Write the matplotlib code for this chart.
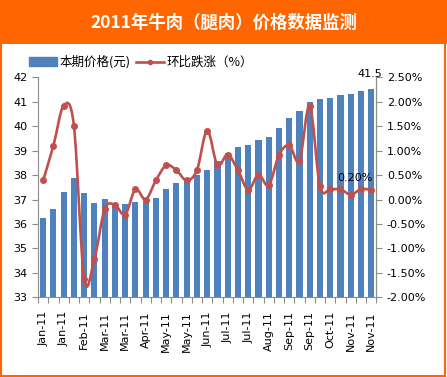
import matplotlib
matplotlib.use('Agg')
import matplotlib.pyplot as plt
from matplotlib.path import Path
from matplotlib.patches import PathPatch, Rectangle
from matplotlib.lines import Line2D
from matplotlib.ticker import FuncFormatter
import numpy as np

plt.rcParams['font.family'] = ['DejaVu Sans', 'Noto Sans CJK SC']

title = '2011年牛肉（腿肉）价格数据监测'
bar_name = '本期价格(元)'
line_name = '环比跌涨（%）'

# one label every second period
tick_labels = ['Jan-11', 'Jan-11', 'Feb-11', 'Mar-11', 'Mar-11', 'Apr-11',
               'May-11', 'May-11', 'Jun-11', 'Jul-11', 'Jul-11', 'Aug-11',
               'Sep-11', 'Sep-11', 'Oct-11', 'Nov-11', 'Nov-11']

price = [36.23, 36.61, 37.32, 37.89, 37.28, 36.85, 37.01, 36.80, 36.80, 36.89,
         36.89, 37.05, 37.43, 37.66, 37.83, 37.99, 38.20, 38.58, 38.89, 39.14,
         39.23, 39.42, 39.57, 39.91, 40.32, 40.62, 40.99, 41.13, 41.17, 41.29,
         41.32, 41.43, 41.52]

change = [0.39, 1.10, 1.92, 1.51, -1.62, -1.22, -0.20, -0.11, -0.31, 0.21,
          0.00, 0.39, 0.70, 0.60, 0.39, 0.60, 1.41, 0.70, 0.92, 0.60,
          0.20, 0.51, 0.29, 0.91, 1.11, 0.79, 1.92, 0.27, 0.21, 0.21,
          0.10, 0.21, 0.20]

bar_color = '#4F81BD'
line_color = '#C0504D'
orange = '#FF6600'
axis_gray = '#8C8C8C'

fig = plt.figure(figsize=(4.47, 3.77), dpi=100)

# orange title band and frame
fig.patches.append(Rectangle((0, 0.883), 1, 0.117, transform=fig.transFigure,
                             facecolor=orange, edgecolor='none', zorder=0))
fig.patches.append(Rectangle((0.002, 0.003), 0.994, 0.995, transform=fig.transFigure,
                             facecolor='none', edgecolor=orange, linewidth=1.5, zorder=0))
fig.text(0.5, 0.94, title, color='white', fontsize=12.5, fontweight='bold',
         ha='center', va='center', family=['Noto Sans CJK SC', 'DejaVu Sans'])

ax = fig.add_axes([0.085, 0.2114, 0.757, 0.5836])
x = np.arange(len(price))
ax.bar(x, price, width=0.6, color=bar_color, zorder=2)
ax.set_xlim(-0.5, len(price) - 0.5)
ax.set_ylim(33, 42)
ax.set_yticks(range(33, 43))

ax2 = ax.twinx()
pct = np.array(change) / 100

# smoothed line like the spreadsheet's
pts = np.column_stack([x, pct])
verts = [pts[0]]
codes = [Path.MOVETO]
n = len(pts)
for i in range(n - 1):
    p0 = pts[max(i - 1, 0)]
    p1 = pts[i]
    p2 = pts[i + 1]
    p3 = pts[min(i + 2, n - 1)]
    verts += [p1 + (p2 - p0) / 6, p2 - (p3 - p1) / 6, p2]
    codes += [Path.CURVE4] * 3
ax2.add_patch(PathPatch(Path(verts, codes), facecolor='none',
                        edgecolor=line_color, linewidth=1.9, zorder=3))
ax2.plot(x, pct, linestyle='none', marker='o', markersize=4,
         color=line_color, zorder=4)
ax2.set_ylim(-0.02, 0.025)
ax2.set_yticks(np.arange(-0.02, 0.0251, 0.005))
ax2.yaxis.set_major_formatter(FuncFormatter(lambda v, p: '{:.2f}%'.format(v * 100)))

ax.annotate('41.5', (x[-1], price[-1]), xytext=(-1, 7), textcoords='offset points',
            ha='center', va='bottom', fontsize=8)
ax2.annotate('0.20%', (x[-1], pct[-1]), xytext=(1, 5), textcoords='offset points',
             ha='right', va='bottom', fontsize=8)

for a in (ax, ax2):
    a.spines['top'].set_visible(False)
    for s in ('left', 'right', 'bottom'):
        a.spines[s].set_color(axis_gray)
    a.tick_params(axis='y', labelsize=8, colors=axis_gray, labelcolor='black',
                  direction='out', length=4)
ax2.spines['left'].set_visible(False)
ax2.spines['bottom'].set_visible(False)

ax.set_xticks(np.arange(-0.5, len(price), 1))
ax.set_xticklabels([])
ax.set_xticks(np.arange(0, len(price), 2), minor=True)
ax.set_xticklabels(tick_labels, minor=True, rotation=90, fontsize=8)
ax.tick_params(axis='x', which='major', direction='out', length=4, colors=axis_gray)
ax.tick_params(axis='x', which='minor', length=0, pad=10)

handles = [Rectangle((0, 0), 1, 1, color=bar_color),
           Line2D([], [], color=line_color, linewidth=1.9, marker='o', markersize=3)]
fig.legend(handles, [bar_name, line_name], loc='center left',
           bbox_to_anchor=(0.04, 0.835), ncol=2, frameon=False,
           handlelength=2.2, handletextpad=0.2, columnspacing=0.5,
           prop={'family': ['Noto Sans CJK SC', 'DejaVu Sans'], 'size': 9})

fig.savefig('out.png', dpi=100)
